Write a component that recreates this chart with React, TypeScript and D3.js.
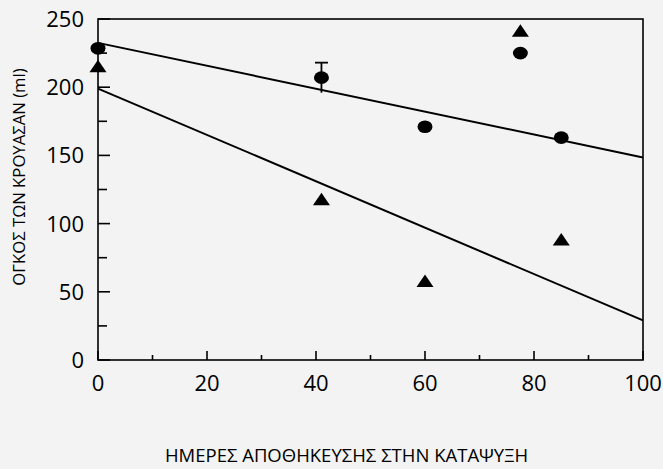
import React from "react";
import * as d3 from "d3";

const circleX = [0, 41, 60, 77.5, 85];
const circleY = [228.5, 207, 171, 225, 163];
const triangleX = [0, 41, 60, 77.5, 85];
const triangleY = [214, 116.5, 56.5, 240, 87];
const errorX = [41];
const errorLow = [196];
const errorHigh = [218];
const lineCircle = [232.5, 148.5];
const lineTriangle = [199, 29];
const lineX = [0, 100];
const xTicks = [0, 20, 40, 60, 80, 100];
const xMinor = [10, 30, 50, 70, 90];
const yTicks = [0, 50, 100, 150, 200, 250];
const yMinor = [25, 75, 125, 175, 225];
const xTitle = "ΗΜΕΡΕΣ ΑΠΟΘΗΚΕΥΣΗΣ ΣΤΗΝ ΚΑΤΑΨΥΞΗ";
const yTitle = "ΟΓΚΟΣ ΤΩΝ ΚΡΟΥΑΣΑΝ (ml)";

export default function App() {
  const W = 663, H = 469;
  const x = d3.scaleLinear().domain([0, 100]).range([98, 643]);
  const y = d3.scaleLinear().domain([0, 250]).range([360, 19]);
  const font = "'Open Sans', sans-serif";
  const line = d3.line<[number, number]>().x(d => x(d[0])).y(d => y(d[1]));
  const tri = d3.symbol().type(d3.symbolTriangle).size(100)();
  return (
    <svg width={W} height={H} style={{ position: "absolute", left: 0, top: 0, background: "#f2f3f2" }}>
      <rect x={0} y={0} width={W} height={H} fill="#f2f3f2" />
      <rect x={x(0)} y={y(250)} width={x(100) - x(0)} height={y(0) - y(250)} fill="none" stroke="#000" strokeWidth={1.6} />
      {yTicks.map(t => (
        <g key={"y" + t}>
          <line x1={x(0)} x2={x(0) + 12} y1={y(t)} y2={y(t)} stroke="#000" strokeWidth={1.6} />
          <text x={84} y={y(t)} dy="0.36em" textAnchor="end" fontFamily={font} fontSize={22} fill="#000">{t}</text>
        </g>
      ))}
      {yMinor.map(t => (
        <line key={"ym" + t} x1={x(0)} x2={x(0) + 9} y1={y(t)} y2={y(t)} stroke="#000" strokeWidth={1.6} />
      ))}
      {xTicks.map(t => (
        <g key={"x" + t}>
          <line x1={x(t)} x2={x(t)} y1={y(0)} y2={y(0) - 9} stroke="#000" strokeWidth={1.6} />
          <text x={x(t)} y={383} dy="0.36em" textAnchor="middle" fontFamily={font} fontSize={22} fill="#000">{t}</text>
        </g>
      ))}
      {xMinor.map(t => (
        <line key={"xm" + t} x1={x(t)} x2={x(t)} y1={y(0)} y2={y(0) - 5} stroke="#000" strokeWidth={1.6} />
      ))}
      <path d={line(lineX.map((v, i) => [v, lineCircle[i]]) as [number, number][]) || ""} stroke="#000" strokeWidth={2} fill="none" />
      <path d={line(lineX.map((v, i) => [v, lineTriangle[i]]) as [number, number][]) || ""} stroke="#000" strokeWidth={2} fill="none" />
      {errorX.map((v, i) => (
        <g key={"e" + i}>
          <line x1={x(v)} x2={x(v)} y1={y(errorLow[i])} y2={y(errorHigh[i])} stroke="#000" strokeWidth={1.8} />
          <line x1={x(v) - 6.5} x2={x(v) + 6.5} y1={y(errorHigh[i])} y2={y(errorHigh[i])} stroke="#000" strokeWidth={1.8} />
        </g>
      ))}
      {circleX.map((v, i) => (
        <ellipse key={"c" + i} cx={x(v)} cy={y(circleY[i])} rx={7.5} ry={6.3} fill="#000" />
      ))}
      {triangleX.map((v, i) => (
        <path key={"t" + i} d={tri || ""} transform={`translate(${x(v)},${y(triangleY[i])}) scale(1.12,0.95)`} fill="#000" />
      ))}
      <text x={346.5} y={462} textAnchor="middle" fontFamily={font} fontSize={18.5} fill="#000">{xTitle}</text>
      <text transform={`translate(25,177) rotate(-90)`} textAnchor="middle" fontFamily={font} fontSize={16.7} fill="#000">{yTitle}</text>
    </svg>
  );
}
